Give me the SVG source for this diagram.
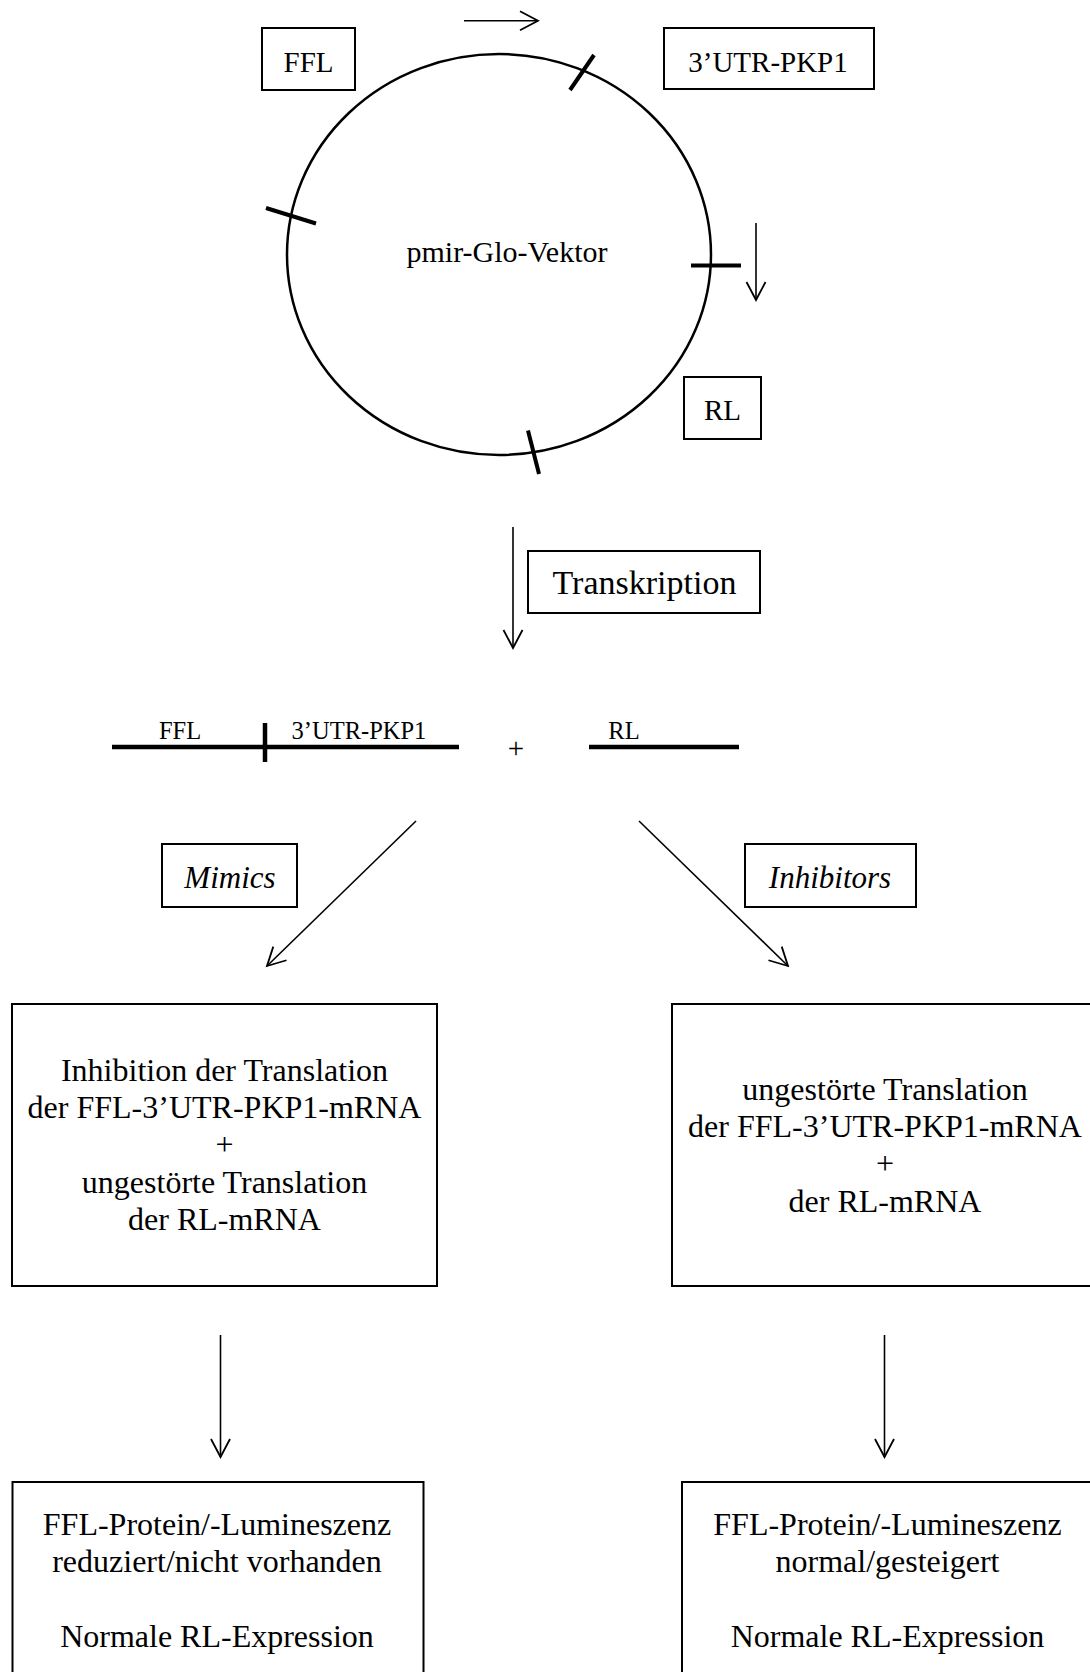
<svg xmlns="http://www.w3.org/2000/svg" width="1090" height="1672" viewBox="0 0 1090 1672">
<style>
  .box { fill: #fff; stroke: #000; stroke-width: 2; }
  .t { font-family: "Liberation Serif", "Times New Roman", serif; fill: #000; text-anchor: middle; }
  .lbl { font-size: 29px; }
  .pm { font-size: 30px; }
  .tr { font-size: 34px; }
  .big { font-size: 32px; }
  .it { font-size: 31px; font-style: italic; }
  .sm { font-size: 24.5px; }
  .plus { font-size: 29px; }
  .tick { stroke: #000; stroke-width: 4; fill: none; }
  .con { stroke: #000; stroke-width: 1.6; fill: none; marker-end: url(#arr); }
</style>
<defs>
  <marker id="arr" markerUnits="userSpaceOnUse" viewBox="0 0 22 22" refX="19" refY="11" markerWidth="22" markerHeight="22" orient="auto">
    <path d="M1,1.5 L19,11 L1,20.5" fill="none" stroke="#000" stroke-width="1.8"/>
  </marker>
</defs>
<rect width="1090" height="1672" fill="#fff"/>

<g id="plasmid">
  <ellipse cx="499" cy="254.5" rx="212" ry="200.5" fill="none" stroke="#000" stroke-width="2.5"/>
  <line class="tick" x1="570" y1="90" x2="594" y2="55"/>
  <line class="tick" x1="266" y1="208" x2="316" y2="223.5"/>
  <line class="tick" x1="691" y1="265.5" x2="741" y2="265.5"/>
  <line class="tick" x1="528" y1="430.5" x2="539" y2="474"/>
  <text class="t pm" x="507" y="262">pmir-Glo-Vektor</text>
</g>

<g id="ffl">
  <rect class="box" x="262" y="28" width="93" height="62"/>
  <text class="t lbl" x="308.5" y="71.5">FFL</text>
</g>
<g id="utr">
  <rect class="box" x="664" y="28" width="210" height="61"/>
  <text class="t lbl" x="768" y="71.5">3’UTR-PKP1</text>
</g>
<g id="rl">
  <rect class="box" x="684" y="377" width="77" height="62"/>
  <text class="t lbl" x="722.5" y="419.5">RL</text>
</g>
<g id="transkription">
  <rect class="box" x="528" y="551" width="232" height="62"/>
  <text class="t tr" x="644.5" y="594">Transkription</text>
</g>

<g id="mrna">
  <line x1="112" y1="747" x2="459" y2="747" stroke="#000" stroke-width="4.5"/>
  <line x1="265" y1="723" x2="265" y2="762" stroke="#000" stroke-width="4.5"/>
  <line x1="589" y1="747" x2="739" y2="747" stroke="#000" stroke-width="4.5"/>
  <text class="t sm" x="180" y="739">FFL</text>
  <text class="t sm" x="359" y="739">3’UTR-PKP1</text>
  <text class="t sm" x="624" y="739">RL</text>
  <text class="t plus" x="516" y="758">+</text>
</g>

<g id="mimics">
  <rect class="box" x="162" y="844" width="135" height="63"/>
  <text class="t it" x="230" y="888">Mimics</text>
</g>
<g id="inhibitors">
  <rect class="box" x="745" y="844" width="171" height="63"/>
  <text class="t it" x="830" y="888">Inhibitors</text>
</g>

<g id="result-left">
  <rect class="box" x="12" y="1004" width="425" height="282"/>
  <text class="t big" x="224.5" y="1081">Inhibition der Translation</text>
  <text class="t big" x="224.5" y="1118">der FFL-3’UTR-PKP1-mRNA</text>
  <text class="t big" x="224.5" y="1155">+</text>
  <text class="t big" x="224.5" y="1193">ungestörte Translation</text>
  <text class="t big" x="224.5" y="1230">der RL-mRNA</text>
</g>
<g id="result-right">
  <rect class="box" x="672" y="1004" width="430" height="282"/>
  <text class="t big" x="885" y="1100">ungestörte Translation</text>
  <text class="t big" x="885" y="1137">der FFL-3’UTR-PKP1-mRNA</text>
  <text class="t big" x="885" y="1174">+</text>
  <text class="t big" x="885" y="1211.5">der RL-mRNA</text>
</g>

<g id="outcome-left">
  <rect class="box" x="12.5" y="1482" width="411" height="210"/>
  <text class="t big" x="217" y="1535">FFL-Protein/-Lumineszenz</text>
  <text class="t big" x="217" y="1572">reduziert/nicht vorhanden</text>
  <text class="t big" x="217" y="1647">Normale RL-Expression</text>
</g>
<g id="outcome-right">
  <rect class="box" x="682" y="1482" width="420" height="210"/>
  <text class="t big" x="887.5" y="1535">FFL-Protein/-Lumineszenz</text>
  <text class="t big" x="887.5" y="1572">normal/gesteigert</text>
  <text class="t big" x="887.5" y="1647">Normale RL-Expression</text>
</g>

<g id="connectors">
  <line class="con" x1="464" y1="20.7" x2="538" y2="20.7"/>
  <line class="con" x1="756" y1="223" x2="756" y2="300"/>
  <line class="con" x1="513" y1="527" x2="513" y2="648"/>
  <line class="con" x1="416" y1="821" x2="267" y2="966"/>
  <line class="con" x1="639" y1="821" x2="788" y2="966"/>
  <line class="con" x1="220.5" y1="1335" x2="220.5" y2="1457"/>
  <line class="con" x1="884.5" y1="1335" x2="884.5" y2="1457"/>
</g>
</svg>
